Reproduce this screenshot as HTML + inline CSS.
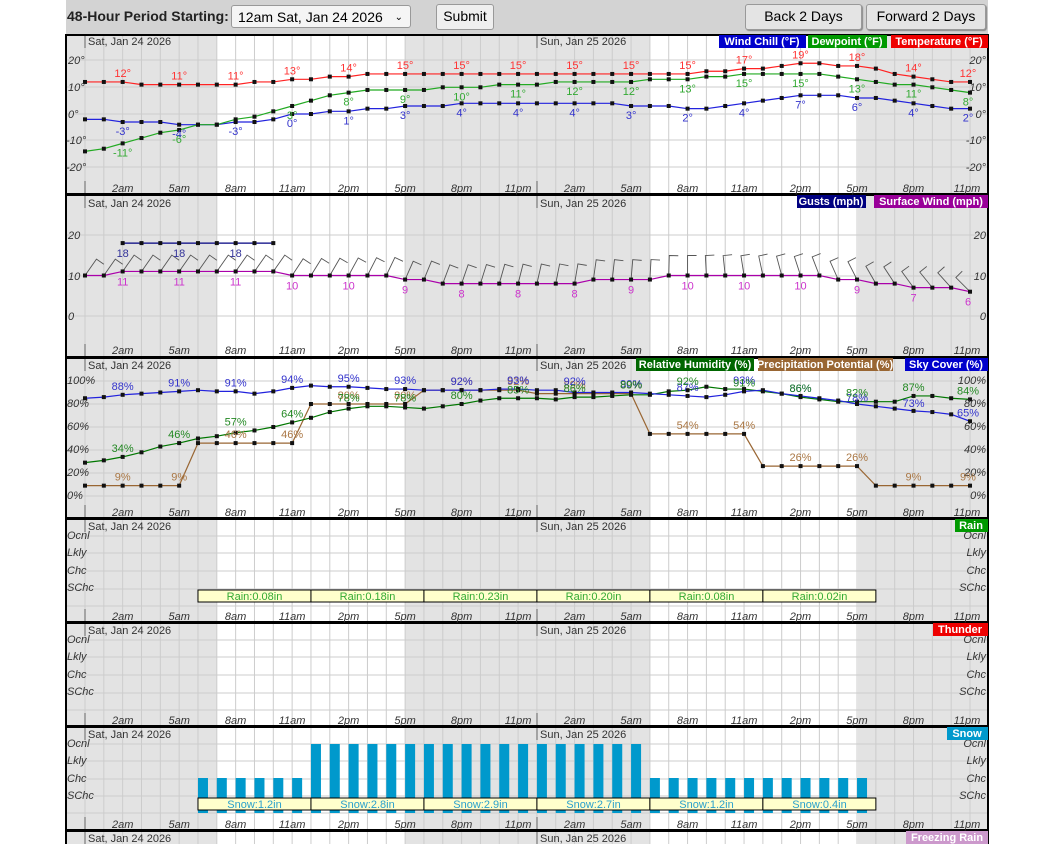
<!DOCTYPE html>
<html><head><meta charset="utf-8"><style>
body{margin:0;background:#fff;width:1055px;height:844px;overflow:hidden;font-family:"Liberation Sans",sans-serif}
#bar{position:absolute;left:66px;top:0;width:922px;height:34px;background:#d3d3d3}
.b{position:absolute;border:1px solid #999;border-radius:3px;background:#efefef;font-size:14px;text-align:center;line-height:23px;color:#000}
svg{position:absolute;left:0;top:0}
text{font-family:"Liberation Sans",sans-serif}
</style></head><body>
<div id="bar"></div>
<div style="position:absolute;left:67px;top:8px;font-size:14px;font-weight:bold;color:#222">48-Hour Period Starting:</div>
<div class="b" style="left:231px;top:5px;width:180px;height:23px;text-align:left;padding-left:6px;box-sizing:border-box;background:#f5f5f5">12am Sat, Jan 24 2026<span style="position:absolute;right:7px;font-size:10px">&#8964;</span></div>
<div class="b" style="left:436px;top:4px;width:56px;height:24px">Submit</div>
<div class="b" style="left:745px;top:4px;width:115px;height:24px;background:#e4e4e4;box-shadow:1px 1px 1px #888">Back 2 Days</div>
<div class="b" style="left:866px;top:4px;width:118px;height:24px;background:#e4e4e4;box-shadow:1px 1px 1px #888">Forward 2 Days</div>
<svg id="s" width="1055" height="844" xmlns="http://www.w3.org/2000/svg">
<g id="bg"></g>
<g id="dyn"></g>
<g font-size="11" fill="#333">
<text x="88" y="45">Sat, Jan 24 2026</text><text x="540" y="45">Sun, Jan 25 2026</text>
<text x="88" y="207">Sat, Jan 24 2026</text><text x="540" y="207">Sun, Jan 25 2026</text>
<text x="88" y="369">Sat, Jan 24 2026</text><text x="540" y="369">Sun, Jan 25 2026</text>
<text x="88" y="530">Sat, Jan 24 2026</text><text x="540" y="530">Sun, Jan 25 2026</text>
<text x="88" y="634">Sat, Jan 24 2026</text><text x="540" y="634">Sun, Jan 25 2026</text>
<text x="88" y="738">Sat, Jan 24 2026</text><text x="540" y="738">Sun, Jan 25 2026</text>
<text x="88" y="842">Sat, Jan 24 2026</text><text x="540" y="842">Sun, Jan 25 2026</text>
</g>
<g font-size="11" font-style="italic" fill="#333" text-anchor="middle">
<text y="192"><tspan x="122.7">2am</tspan><tspan x="179.2">5am</tspan><tspan x="235.6">8am</tspan><tspan x="292.1">11am</tspan><tspan x="348.6">2pm</tspan><tspan x="405.1">5pm</tspan><tspan x="461.6">8pm</tspan><tspan x="518.1">11pm</tspan><tspan x="574.6">2am</tspan><tspan x="631.1">5am</tspan><tspan x="687.6">8am</tspan><tspan x="744.1">11am</tspan><tspan x="800.5">2pm</tspan><tspan x="857">5pm</tspan><tspan x="913.5">8pm</tspan><tspan x="967">11pm</tspan></text>
<text y="354"><tspan x="122.7">2am</tspan><tspan x="179.2">5am</tspan><tspan x="235.6">8am</tspan><tspan x="292.1">11am</tspan><tspan x="348.6">2pm</tspan><tspan x="405.1">5pm</tspan><tspan x="461.6">8pm</tspan><tspan x="518.1">11pm</tspan><tspan x="574.6">2am</tspan><tspan x="631.1">5am</tspan><tspan x="687.6">8am</tspan><tspan x="744.1">11am</tspan><tspan x="800.5">2pm</tspan><tspan x="857">5pm</tspan><tspan x="913.5">8pm</tspan><tspan x="967">11pm</tspan></text>
<text y="516"><tspan x="122.7">2am</tspan><tspan x="179.2">5am</tspan><tspan x="235.6">8am</tspan><tspan x="292.1">11am</tspan><tspan x="348.6">2pm</tspan><tspan x="405.1">5pm</tspan><tspan x="461.6">8pm</tspan><tspan x="518.1">11pm</tspan><tspan x="574.6">2am</tspan><tspan x="631.1">5am</tspan><tspan x="687.6">8am</tspan><tspan x="744.1">11am</tspan><tspan x="800.5">2pm</tspan><tspan x="857">5pm</tspan><tspan x="913.5">8pm</tspan><tspan x="967">11pm</tspan></text>
<text y="620"><tspan x="122.7">2am</tspan><tspan x="179.2">5am</tspan><tspan x="235.6">8am</tspan><tspan x="292.1">11am</tspan><tspan x="348.6">2pm</tspan><tspan x="405.1">5pm</tspan><tspan x="461.6">8pm</tspan><tspan x="518.1">11pm</tspan><tspan x="574.6">2am</tspan><tspan x="631.1">5am</tspan><tspan x="687.6">8am</tspan><tspan x="744.1">11am</tspan><tspan x="800.5">2pm</tspan><tspan x="857">5pm</tspan><tspan x="913.5">8pm</tspan><tspan x="967">11pm</tspan></text>
<text y="724"><tspan x="122.7">2am</tspan><tspan x="179.2">5am</tspan><tspan x="235.6">8am</tspan><tspan x="292.1">11am</tspan><tspan x="348.6">2pm</tspan><tspan x="405.1">5pm</tspan><tspan x="461.6">8pm</tspan><tspan x="518.1">11pm</tspan><tspan x="574.6">2am</tspan><tspan x="631.1">5am</tspan><tspan x="687.6">8am</tspan><tspan x="744.1">11am</tspan><tspan x="800.5">2pm</tspan><tspan x="857">5pm</tspan><tspan x="913.5">8pm</tspan><tspan x="967">11pm</tspan></text>
<text y="828"><tspan x="122.7">2am</tspan><tspan x="179.2">5am</tspan><tspan x="235.6">8am</tspan><tspan x="292.1">11am</tspan><tspan x="348.6">2pm</tspan><tspan x="405.1">5pm</tspan><tspan x="461.6">8pm</tspan><tspan x="518.1">11pm</tspan><tspan x="574.6">2am</tspan><tspan x="631.1">5am</tspan><tspan x="687.6">8am</tspan><tspan x="744.1">11am</tspan><tspan x="800.5">2pm</tspan><tspan x="857">5pm</tspan><tspan x="913.5">8pm</tspan><tspan x="967">11pm</tspan></text>
</g>
<g font-size="11" font-style="italic" fill="#333">
<text x="68" y="64">20°</text><text x="68" y="91">10°</text><text x="68" y="118">0°</text><text x="66" y="144">-10°</text><text x="66" y="171">-20°</text>
<text x="68" y="239">20</text><text x="68" y="280">10</text><text x="68" y="320">0</text>
<text x="67" y="384">100%</text><text x="67" y="407">80%</text><text x="67" y="430">60%</text><text x="67" y="453">40%</text><text x="67" y="476">20%</text><text x="67" y="499">0%</text>
<text x="67" y="539">Ocnl</text><text x="67" y="556">Lkly</text><text x="67" y="574">Chc</text><text x="67" y="591">SChc</text>
<text x="67" y="643">Ocnl</text><text x="67" y="660">Lkly</text><text x="67" y="678">Chc</text><text x="67" y="695">SChc</text>
<text x="67" y="747">Ocnl</text><text x="67" y="764">Lkly</text><text x="67" y="782">Chc</text><text x="67" y="799">SChc</text>
</g>
<g font-size="11" font-style="italic" fill="#333" text-anchor="end">
<text x="986" y="64">20°</text><text x="986" y="91">10°</text><text x="986" y="118">0°</text><text x="986" y="144">-10°</text><text x="986" y="171">-20°</text>
<text x="986" y="239">20</text><text x="986" y="280">10</text><text x="986" y="320">0</text>
<text x="986" y="384">100%</text><text x="986" y="407">80%</text><text x="986" y="430">60%</text><text x="986" y="453">40%</text><text x="986" y="476">20%</text><text x="986" y="499">0%</text>
<text x="986" y="539">Ocnl</text><text x="986" y="556">Lkly</text><text x="986" y="574">Chc</text><text x="986" y="591">SChc</text>
<text x="986" y="643">Ocnl</text><text x="986" y="660">Lkly</text><text x="986" y="678">Chc</text><text x="986" y="695">SChc</text>
<text x="986" y="747">Ocnl</text><text x="986" y="764">Lkly</text><text x="986" y="782">Chc</text><text x="986" y="799">SChc</text>
</g>
<g font-size="11" font-weight="bold" fill="#fff" text-anchor="middle">
<rect x="719" y="35" width="87" height="13" fill="#0000cc"/><text x="762" y="45">Wind Chill (°F)</text>
<rect x="808" y="35" width="79" height="13" fill="#009900"/><text x="847" y="45">Dewpoint (°F)</text>
<rect x="891" y="35" width="97" height="13" fill="#ee0000"/><text x="939" y="45">Temperature (°F)</text>
<rect x="797" y="195" width="69" height="13" fill="#000080"/><text x="831" y="205">Gusts (mph)</text>
<rect x="874" y="195" width="114" height="13" fill="#990099"/><text x="931" y="205">Surface Wind (mph)</text>
<rect x="636" y="358" width="118" height="13" fill="#006600"/><text x="695" y="368">Relative Humidity (%)</text>
<rect x="758" y="358" width="135" height="13" fill="#996633"/><text x="825" y="368">Precipitation Potential (%)</text>
<rect x="905" y="358" width="83" height="13" fill="#0000cc"/><text x="946" y="368">Sky Cover (%)</text>
<rect x="955" y="519" width="33" height="13" fill="#009900"/><text x="971" y="529">Rain</text>
<rect x="933" y="623" width="55" height="13" fill="#ee0000"/><text x="960" y="633">Thunder</text>
<rect x="947" y="727" width="41" height="13" fill="#0099cc"/><text x="967" y="737">Snow</text>
<rect x="906" y="831" width="82" height="13" fill="#cc99cc"/><text x="947" y="841">Freezing Rain</text>
</g>
<g font-size="11" text-anchor="middle">
<g fill="#ff3333"><text x="122.7" y="77">12°</text><text x="179.2" y="79.6">11°</text><text x="235.6" y="79.6">11°</text><text x="292.1" y="74.3">13°</text><text x="348.6" y="71.6">14°</text><text x="405.1" y="69">15°</text><text x="461.6" y="69">15°</text><text x="518.1" y="69">15°</text><text x="574.6" y="69">15°</text><text x="631.1" y="69">15°</text><text x="687.6" y="69">15°</text><text x="744.1" y="63.6">17°</text><text x="800.5" y="58.3">19°</text><text x="857" y="61">18°</text><text x="913.5" y="71.6">14°</text><text x="968" y="77">12°</text></g>
<g fill="#33aa33"><text x="122.7" y="156.4">-11°</text><text x="179.2" y="143">-6°</text><text x="292.1" y="119">3°</text><text x="348.6" y="105.6">8°</text><text x="405.1" y="103">9°</text><text x="461.6" y="100.3">10°</text><text x="518.1" y="97.6">11°</text><text x="574.6" y="95">12°</text><text x="631.1" y="95">12°</text><text x="687.6" y="92.3">13°</text><text x="744.1" y="87">15°</text><text x="800.5" y="87">15°</text><text x="857" y="92.3">13°</text><text x="913.5" y="97.6">11°</text><text x="968" y="105.6">8°</text></g>
<g fill="#3333cc"><text x="122.7" y="135">-3°</text><text x="179.2" y="137.7">-4°</text><text x="235.6" y="135">-3°</text><text x="292.1" y="127">0°</text><text x="348.6" y="124.3">1°</text><text x="405.1" y="119">3°</text><text x="461.6" y="116.3">4°</text><text x="518.1" y="116.3">4°</text><text x="574.6" y="116.3">4°</text><text x="631.1" y="119">3°</text><text x="687.6" y="121.7">2°</text><text x="744.1" y="116.3">4°</text><text x="800.5" y="108.3">7°</text><text x="857" y="111">6°</text><text x="913.5" y="116.3">4°</text><text x="968" y="121.7">2°</text></g>
<g fill="#333399"><text x="122.7" y="257">18</text><text x="179.2" y="257">18</text><text x="235.6" y="257">18</text></g>
<g fill="#cc33cc"><text x="122.7" y="285.5">11</text><text x="179.2" y="285.5">11</text><text x="235.6" y="285.5">11</text><text x="292.1" y="289.5">10</text><text x="348.6" y="289.5">10</text><text x="405.1" y="293.5">9</text><text x="461.6" y="297.6">8</text><text x="518.1" y="297.6">8</text><text x="574.6" y="297.6">8</text><text x="631.1" y="293.5">9</text><text x="687.6" y="289.5">10</text><text x="744.1" y="289.5">10</text><text x="800.5" y="289.5">10</text><text x="857" y="293.5">9</text><text x="913.5" y="301.6">7</text><text x="968" y="305.7">6</text></g>
<g fill="#aa7744"><text x="122.7" y="480.7">9%</text><text x="179.2" y="480.7">9%</text><text x="235.6" y="438">46%</text><text x="292.1" y="438">46%</text><text x="348.6" y="399">80%</text><text x="405.1" y="399">80%</text><text x="461.6" y="385.2">92%</text><text x="518.1" y="385.2">92%</text><text x="574.6" y="388.7">89%</text><text x="631.1" y="388.7">89%</text><text x="687.6" y="428.9">54%</text><text x="744.1" y="428.9">54%</text><text x="800.5" y="461">26%</text><text x="857" y="461">26%</text><text x="913.5" y="480.7">9%</text><text x="968" y="480.7">9%</text></g>
<g fill="#3333cc"><text x="122.7" y="389.8">88%</text><text x="179.2" y="386.4">91%</text><text x="235.6" y="386.4">91%</text><text x="292.1" y="382.9">94%</text><text x="348.6" y="381.8">95%</text><text x="405.1" y="384">93%</text><text x="461.6" y="385.2">92%</text><text x="518.1" y="384">93%</text><text x="574.6" y="385.2">92%</text><text x="631.1" y="387.5">90%</text><text x="687.6" y="391">87%</text><text x="744.1" y="384">93%</text><text x="800.5" y="392">86%</text><text x="857" y="401.3">78%</text><text x="913.5" y="407">73%</text><text x="968" y="416.3">65%</text></g>
<g fill="#228822"><text x="122.7" y="451.9">34%</text><text x="179.2" y="438">46%</text><text x="235.6" y="425.5">57%</text><text x="292.1" y="417.4">64%</text><text x="348.6" y="401.3">78%</text><text x="405.1" y="401.3">78%</text><text x="461.6" y="399">80%</text><text x="518.1" y="393.3">85%</text><text x="574.6" y="392">86%</text><text x="631.1" y="388.7">89%</text><text x="687.6" y="385.2">92%</text><text x="744.1" y="386.4">91%</text><text x="800.5" y="392">86%</text><text x="857" y="396.7">82%</text><text x="913.5" y="391">87%</text><text x="968" y="394.4">84%</text></g>
</g>
<g id="boxes"></g>
<g font-size="11" text-anchor="middle">
<g fill="#33aa33"><text x="254.5" y="600">Rain:0.08in</text><text x="367.5" y="600">Rain:0.18in</text><text x="480.5" y="600">Rain:0.23in</text><text x="593.5" y="600">Rain:0.20in</text><text x="706.5" y="600">Rain:0.08in</text><text x="819.5" y="600">Rain:0.02in</text></g>
<g fill="#2aa0cc"><text x="254.5" y="808">Snow:1.2in</text><text x="367.5" y="808">Snow:2.8in</text><text x="480.5" y="808">Snow:2.9in</text><text x="593.5" y="808">Snow:2.7in</text><text x="706.5" y="808">Snow:1.2in</text><text x="819.5" y="808">Snow:0.4in</text></g>
</g>
</svg>
<script>
(function(){
var NS="http://www.w3.org/2000/svg";
function X(h){return 85+h*18.83;}
function el(p,t,a){var e=document.createElementNS(NS,t);for(var k in a)e.setAttribute(k,a[k]);p.appendChild(e);return e;}
var bg=document.getElementById('bg'),dy=document.getElementById('dyn'),bx=document.getElementById('boxes');
var panels=[[35,194,[60,87,114,140,167]],[195,357,[235,276,316]],[358,518,[381,404,427,450,473,496]],[519,622,[536,553,571,589,606]],[623,726,[640,657,675,693,710]],[727,830,[744,761,779,796,813]],[831,860,[]]];
panels.forEach(function(p){
 var t=p[0],b=p[1];
 el(bg,'rect',{x:66,y:t,width:922,height:b-t,fill:'#fff'});
 [[66,217],[405,650],[858,988]].forEach(function(s){el(bg,'rect',{x:s[0],y:t,width:s[1]-s[0],height:b-t,fill:'#e3e3e3'});});
 for(var h=0;h<48;h++){el(bg,'line',{x1:X(h),y1:t,x2:X(h),y2:b,stroke:'#ccc','stroke-width':1});}
 p[2].forEach(function(y){el(bg,'line',{x1:66,y1:y,x2:988,y2:y,stroke:'#ccc'});});
 el(bg,'line',{x1:85,y1:t,x2:85,y2:t+13,stroke:'#666'});el(bg,'line',{x1:85,y1:b-13,x2:85,y2:b,stroke:'#666'});
 el(bg,'line',{x1:537,y1:t,x2:537,y2:t+13,stroke:'#666'});el(bg,'line',{x1:537,y1:b-13,x2:537,y2:b,stroke:'#666'});
 el(bg,'rect',{x:66,y:t,width:922,height:b-t,fill:'none',stroke:'#000','stroke-width':2});
});
function series(vals,fy,col,h0){
 var pts=vals.map(function(v,i){return X(i+(h0||0))+','+fy(v);}).join(' ');
 el(dy,'polyline',{points:pts,fill:'none',stroke:col,'stroke-width':1.2});
 vals.forEach(function(v,i){el(dy,'rect',{x:X(i+(h0||0))-2,y:fy(v)-2,width:4,height:4,fill:'#111'});});
}
var T=[12,12,12,11,11,11,11,11,11,12,12,13,13,14,14,15,15,15,15,15,15,15,15,15,15,15,15,15,15,15,15,15,15,16,16,17,17,18,19,19,18,18,17,15,14,13,12,12];
var D=[-14,-13,-11,-9,-7,-6,-4,-4,-2,-1,1,3,5,7,8,9,9,9,9,10,10,10,11,11,11,12,12,12,12,12,13,13,13,14,14,15,15,15,15,15,14,13,12,11,11,10,9,8];
var W=[-2,-2,-3,-3,-3,-4,-4,-4,-3,-3,-2,0,0,1,1,2,2,3,3,3,4,4,4,4,4,4,4,4,4,3,3,3,2,2,3,4,5,6,7,7,7,6,6,5,4,3,2,2];
var f1=function(v){return 114-2.67*v;};
series(W,f1,'#2222dd');series(D,f1,'#22aa22');series(T,f1,'#ff2222');
var S=[10,10,11,11,11,11,11,11,11,11,11,10,10,10,10,10,10,9,9,8,8,8,8,8,8,8,8,9,9,9,9,10,10,10,10,10,10,10,10,10,9,9,8,8,7,7,7,6];
var f2=function(v){return 316-4.05*v;};
S.forEach(function(v,h){
 var a;if(h<=10)a=35;else if(h<=32)a=35-35*(h-10)/22;else a=-45*(h-32)/15;
 var r=a*Math.PI/180,x=X(h),y=f2(v),L=20,sx=x+L*Math.sin(r),sy=y-L*Math.cos(r);
 var bx2=sx+9*Math.cos(r),by2=sy+9*Math.sin(r);
 el(dy,'polyline',{points:x+','+y+' '+sx+','+sy+' '+bx2+','+by2,fill:'none',stroke:'#555','stroke-width':0.9});
});
series([18,18,18,18,18,18,18,18,18],f2,'#000080',2);
series(S,f2,'#aa00aa');
var f3=function(v){return 496-1.15*v;};
var P=[9,9,9,9,9,9,46,46,46,46,46,46,80,80,80,80,80,80,92,92,92,92,92,92,89,89,89,89,89,89,54,54,54,54,54,54,26,26,26,26,26,26,9,9,9,9,9,9];
var SK=[85,86,88,89,90,91,92,91,91,89,91,94,96,95,95,94,93,93,92,92,92,92,93,93,92,92,90,90,90,90,89,88,87,86,88,91,92,89,87,85,83,80,78,76,74,73,71,65];
var RH=[29,31,34,38,43,46,50,52,55,57,60,64,68,73,76,78,78,77,76,78,80,83,85,85,85,84,86,86,87,88,88,91,92,95,93,93,91,89,86,84,82,82,82,82,87,87,85,84];
series(P,f3,'#996633');series(RH,f3,'#007700');series(SK,f3,'#2222dd');
for(var h=6;h<42;h++){var tp=(h>=12&&h<30)?744:778;el(dy,'rect',{x:X(h),y:tp,width:10,height:813-tp,fill:'#0099cc'});}
for(var i=0;i<6;i++){
 var x0=X(6+6*i),x1=X(12+6*i);
 el(bx,'rect',{x:x0,y:590,width:x1-x0,height:12,fill:'#ffffcc',stroke:'#000','stroke-width':1});
 el(bx,'rect',{x:x0,y:798,width:x1-x0,height:12,fill:'#ffffcc',stroke:'#000','stroke-width':1});
}
})();
</script>
</body></html>
